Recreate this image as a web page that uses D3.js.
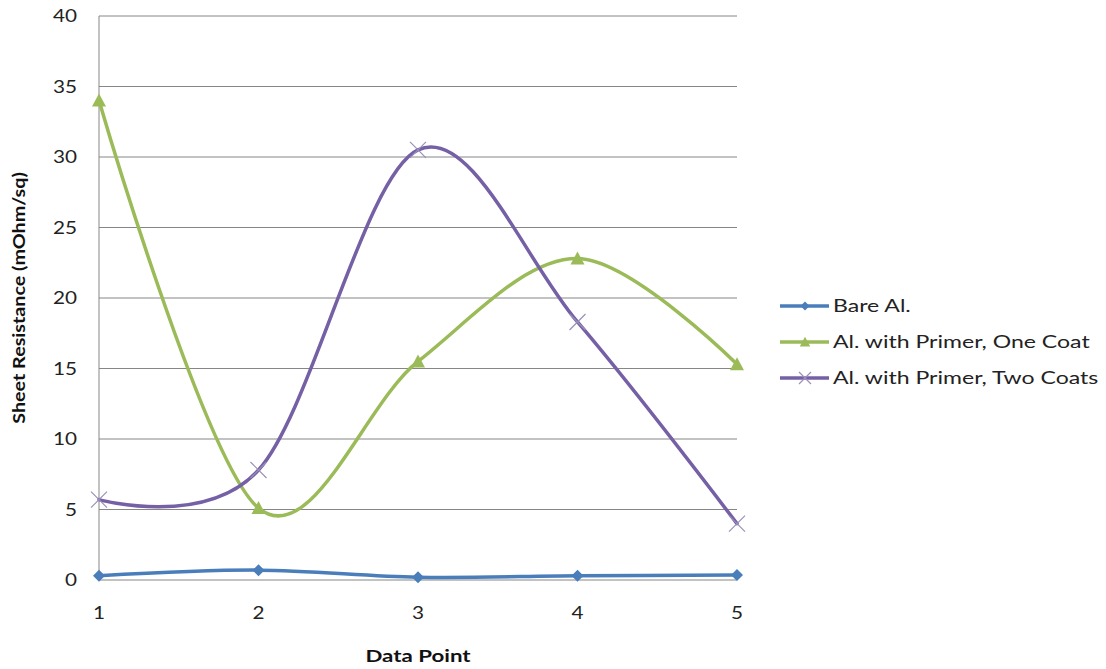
<!DOCTYPE html>
<html><head><meta charset="utf-8">
<script src="https://cdn.jsdelivr.net/npm/d3@7"></script>
<style>body{margin:0;background:#fff;} text{font-family:Lato, "Open Sans", sans-serif;}</style>
</head><body>
<svg id="c" width="1106" height="669"></svg>
<script>
const categories = [1, 2, 3, 4, 5];
const bareAl = [0.3, 0.7, 0.2, 0.3, 0.35];
const oneCoat = [34.0, 5.1, 15.5, 22.8, 15.3];
const twoCoats = [5.7, 7.8, 30.5, 18.3, 4.0];
const yTicks = [0, 5, 10, 15, 20, 25, 30, 35, 40];
const seriesNames = ["Bare Al.", "Al. with Primer, One Coat", "Al. with Primer, Two Coats"];

(function(){
const series = [
  {name: seriesNames[0], values: bareAl, color: "#4A7EBB", marker: "diamond"},
  {name: seriesNames[1], values: oneCoat, color: "#9BBB59", marker: "triangle"},
  {name: seriesNames[2], values: twoCoats, color: "#7560A5", marker: "x"}
];

function stretch(sel, f) {
  sel.each(function(){
    const w = this.getComputedTextLength();
    d3.select(this).attr("textLength", w * f).attr("lengthAdjust", "spacingAndGlyphs");
  });
}

const svg = d3.select("#c");
const pL = 99, pR = 737, pT = 16, pB = 580;
const x = d3.scalePoint().domain(categories).range([pL, pR]);
const y = d3.scaleLinear().domain([0, 40]).range([pB, pT]);

svg.append("g").selectAll("line").data(yTicks).join("line")
  .attr("x1", pL).attr("x2", pR)
  .attr("y1", d => y(d)).attr("y2", d => y(d))
  .attr("stroke", "#868686").attr("stroke-width", 1);

svg.append("line").attr("x1", pL).attr("x2", pL).attr("y1", y(40)).attr("y2", y(0))
  .attr("stroke", "#868686").attr("stroke-width", 1);

stretch(svg.append("g").selectAll("text").data(yTicks).join("text")
  .attr("x", 77).attr("y", d => y(d)).attr("dy", "0.35em")
  .attr("text-anchor", "end").attr("font-size", 18).attr("fill", "#222")
  .text(d => d), 1.15);

stretch(svg.append("g").selectAll("text").data(categories).join("text")
  .attr("x", d => x(d)).attr("y", 613).attr("dy", "0.35em")
  .attr("text-anchor", "middle").attr("font-size", 18).attr("fill", "#222")
  .text(d => d), 1.15);

stretch(svg.append("text").attr("x", 418).attr("y", 662).attr("text-anchor", "middle")
  .attr("font-size", 17).attr("font-weight", "bold").attr("fill", "#111").text("Data Point"), 1.31);
stretch(svg.append("text").attr("transform", "translate(25,298) rotate(-90)").attr("text-anchor", "middle")
  .attr("font-size", 17).attr("font-weight", "bold").attr("fill", "#111").text("Sheet Resistance (mOhm/sq)"), 1.16);

const line = d3.line().x((d, i) => x(categories[i])).y(d => y(d)).curve(d3.curveCatmullRom.alpha(0));

function drawMarker(g, type, cx, cy, color, s) {
  s = s || 1;
  if (type === "diamond") {
    g.append("path").attr("d", `M${cx},${cy-6*s}L${cx+6*s},${cy}L${cx},${cy+6*s}L${cx-6*s},${cy}Z`).attr("fill", color);
  } else if (type === "triangle") {
    g.append("path").attr("d", `M${cx},${cy-7*s}L${cx+7*s},${cy+6*s}L${cx-7*s},${cy+6*s}Z`).attr("fill", color);
  } else {
    g.append("path").attr("d", `M${cx-8*s},${cy-8*s}L${cx+8*s},${cy+8*s}M${cx+8*s},${cy-8*s}L${cx-8*s},${cy+8*s}`)
      .attr("stroke", "#9a90b8").attr("stroke-width", 1.2).attr("fill", "none");
  }
}

series.forEach(s => {
  const g = svg.append("g");
  g.append("path").attr("d", line(s.values)).attr("fill", "none")
    .attr("stroke", s.color).attr("stroke-width", 3.5).attr("stroke-linecap", "round");
  s.values.forEach((v, i) => drawMarker(g, s.marker, x(categories[i]), y(v), s.color));
});

const ly = [306, 342, 378];
series.forEach((s, i) => {
  const g = svg.append("g");
  g.append("line").attr("x1", 780).attr("x2", 829).attr("y1", ly[i]).attr("y2", ly[i])
    .attr("stroke", s.color).attr("stroke-width", 3.5);
  drawMarker(g, s.marker, 805, ly[i], s.color, 0.75);
  stretch(g.append("text").attr("x", 833).attr("y", ly[i]).attr("dy", "0.35em")
    .attr("font-size", 18).attr("fill", "#222").text(s.name), 1.28);
});
})();
</script>
</body></html>
